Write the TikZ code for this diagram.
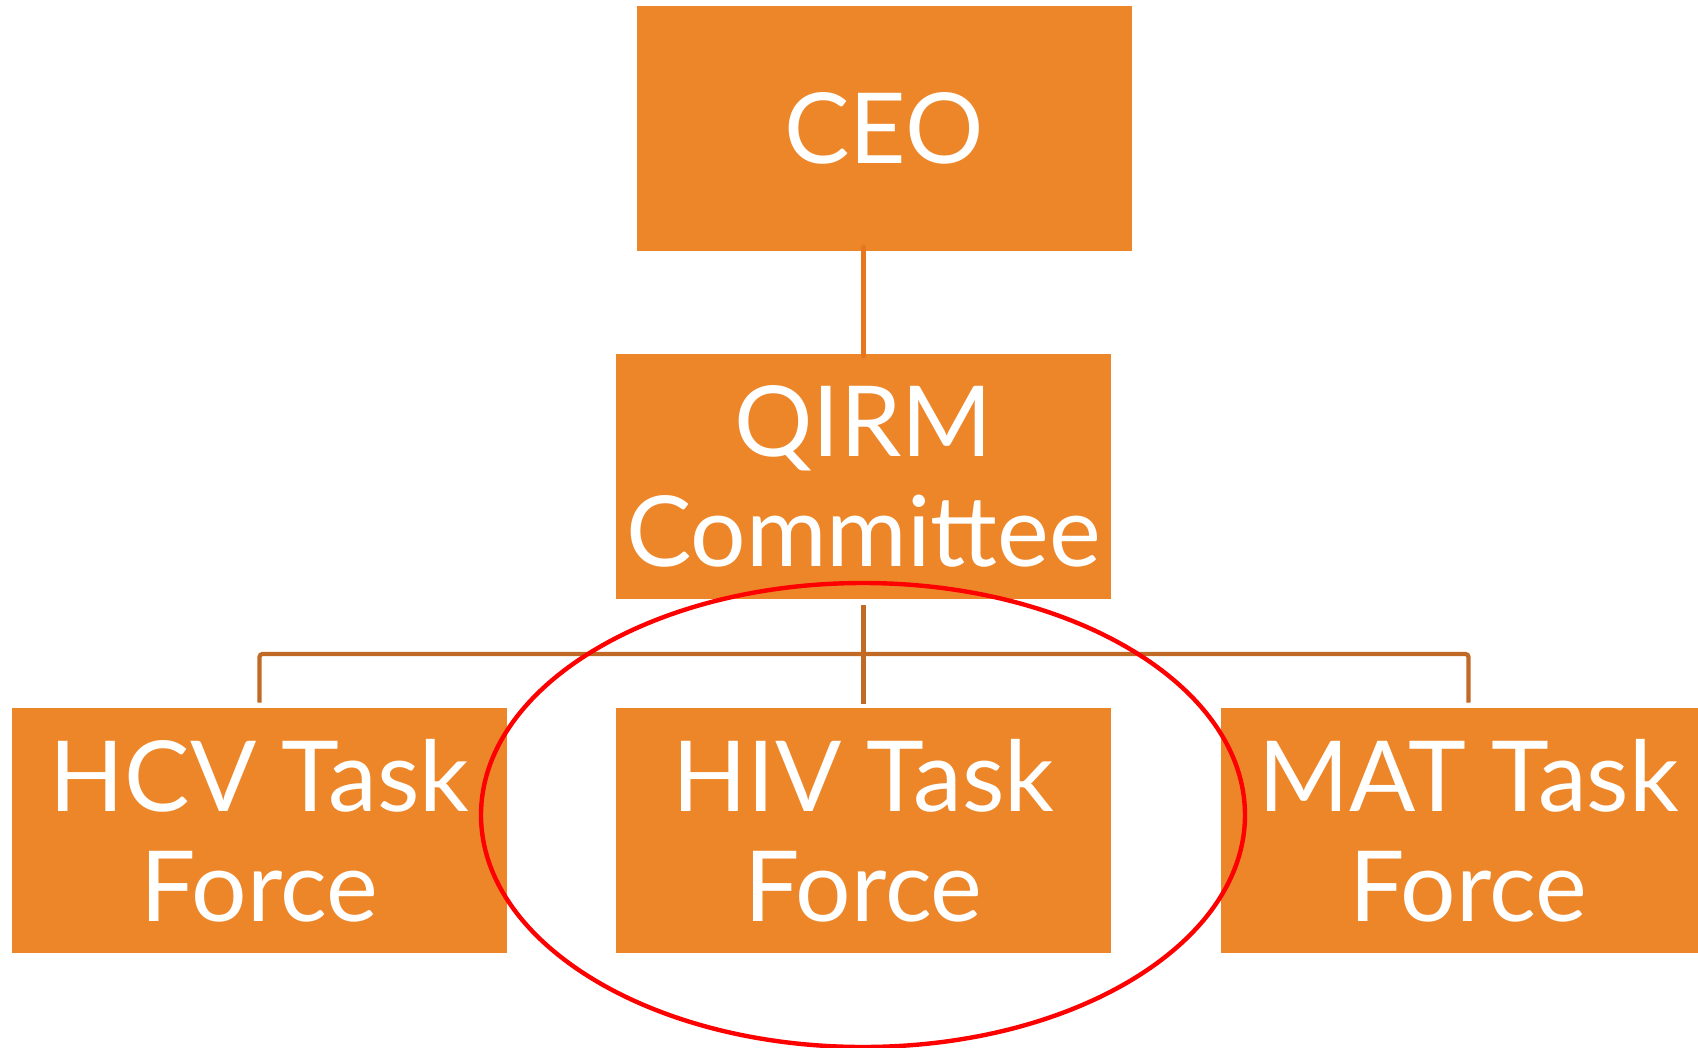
\documentclass[tikz,border=0pt]{standalone}
\usepackage{fontspec}
\setmainfont{Lato}
\definecolor{boxorange}{RGB}{237,134,41}
\definecolor{linkorange}{RGB}{232,118,28}
\definecolor{linkbrown}{RGB}{192,106,38}
\begin{document}
\begin{tikzpicture}[x=0.5pt,y=-0.5pt,
  orgbox/.style={fill=boxorange, text=white, inner sep=0pt,
    minimum width=247.5pt, minimum height=122.5pt, align=center,
    font=\fontsize{49}{55}\selectfont},
  toplink/.style={draw=linkorange, line width=2.8pt, line cap=round},
  buslink/.style={draw=linkbrown, line width=2.1pt, rounded corners=1.5pt},
  focusring/.style={draw=red, line width=2.2pt}]
\useasboundingbox (0,0) rectangle (1698,1048);
\clip (0,0) rectangle (1698,1048);

% boxes of the chart
\node[orgbox] (ceo)  at (884,128.5)    {CEO};
\node[orgbox] (qirm) at (863.5,476.5)  {QIRM\\Committee};
\node[orgbox] (hcv)  at (259.5,830.5)  {HCV Task\\Force};
\node[orgbox] (hiv)  at (863.5,830.5)  {HIV Task\\Force};
\node[orgbox] (mat)  at (1468.5,830.5) {MAT Task\\Force};

% CEO to committee
\draw[toplink] ([yshift=2pt]ceo.south -| qirm.north) -- ([yshift=-1pt]qirm.north);

% committee to task forces
\coordinate (bus) at (863.5,654);
\draw[buslink] ([yshift=2.5pt]hcv.north) |- (bus) -| ([yshift=2.5pt]mat.north);
\draw[buslink] ([yshift=-3pt]qirm.south) -- ([yshift=2pt]hiv.north);

% highlight ring round the HIV task force
\coordinate (ringc) at (863,815);
\draw[focusring] (ringc) ellipse [x radius=191pt, y radius=116pt];
\end{tikzpicture}
\end{document}
